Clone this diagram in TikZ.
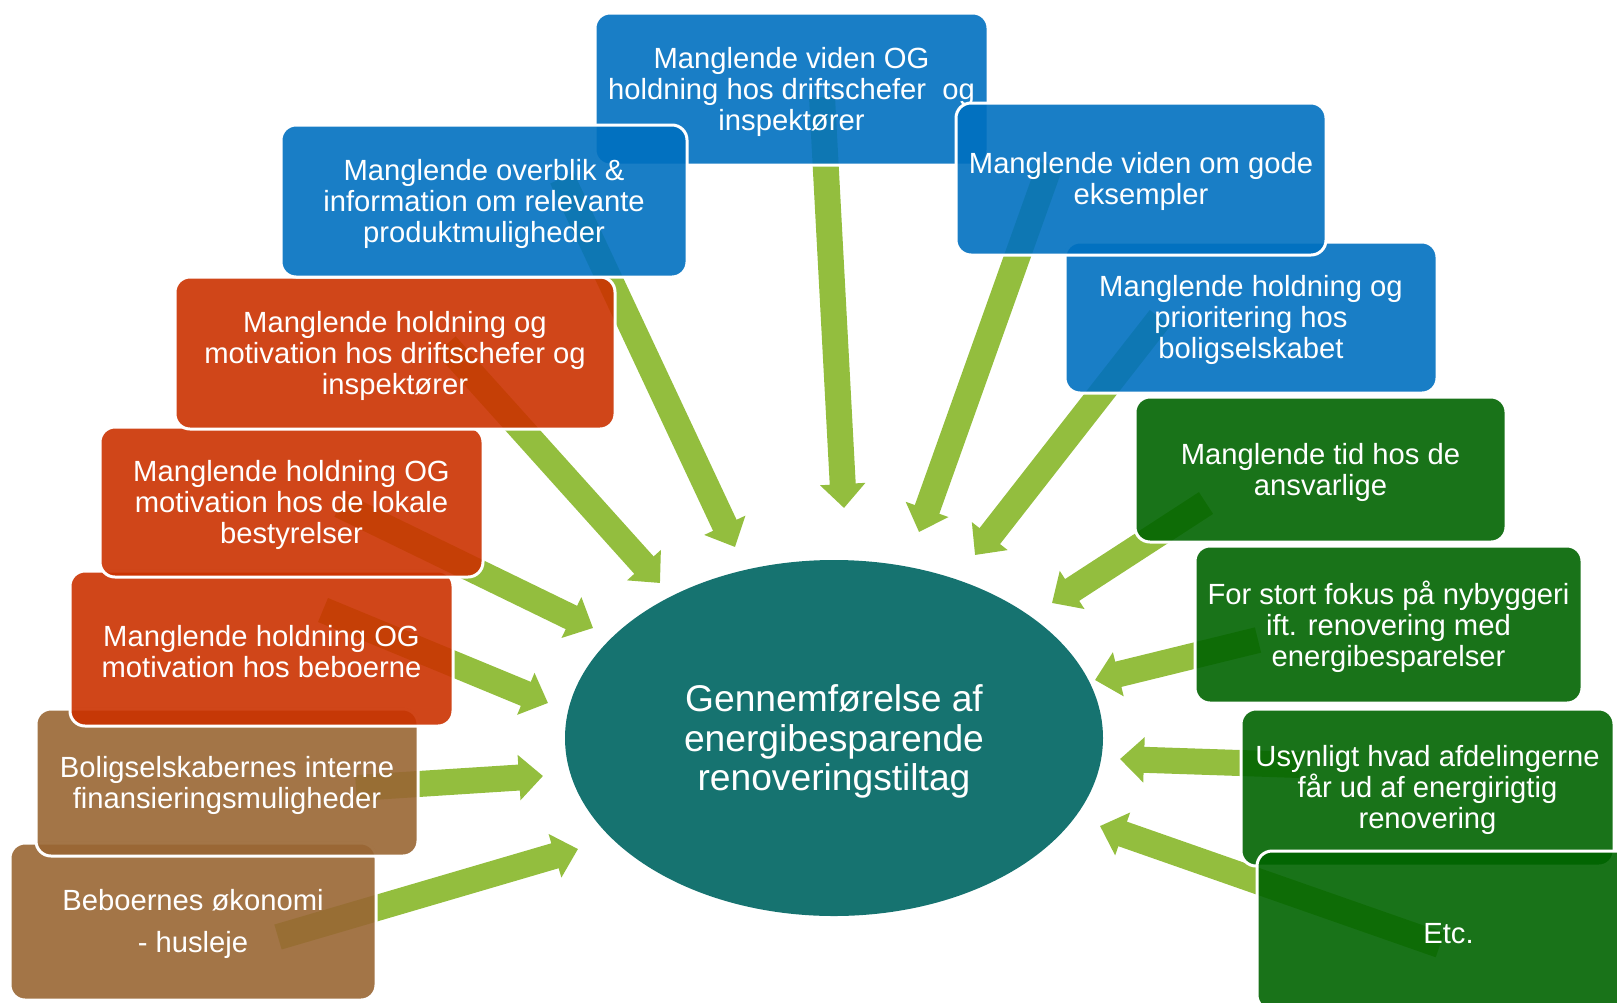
\documentclass[tikz,border=0pt]{standalone}
\usepackage{fontspec}
\setmainfont{Liberation Sans}
\usetikzlibrary{arrows.meta,shapes.geometric}
\definecolor{boxblue}{RGB}{0,112,192}
\definecolor{boxred}{RGB}{203,50,0}
\definecolor{boxbrown}{RGB}{153,102,51}
\definecolor{boxgreen}{RGB}{0,100,0}
\definecolor{hubteal}{RGB}{22,115,112}
\definecolor{arrowgreen}{RGB}{147,190,62}

\begin{document}
\begin{tikzpicture}[x=0.5pt,y=-0.5pt,
  card/.style={rectangle, rounded corners=7.5pt, draw=white, line width=1.5pt,
    fill opacity=0.9, inner sep=0pt},
  cardtext/.style={text=white, inner sep=0pt, align=center, yshift=-1.3pt,
    font=\fontsize{14.6pt}{15.5pt}\selectfont},
  flow/.style={draw=arrowgreen, line width=13pt,
    -{Triangle[width=22pt,length=12pt]}},
  hub/.style={ellipse, fill=hubteal, inner sep=0pt},
  hubtext/.style={text=white, inner sep=0pt, align=center, yshift=-1.8pt,
    font=\fontsize{18.6pt}{19.8pt}\selectfont}]
\useasboundingbox (0,0) rectangle (1617,1002);
\clip (0,0) rectangle (1617,1002);

% arrow end points
\coordinate (a1s) at (822,97);   \coordinate (a1e) at (844,508);
\coordinate (a2s) at (562,178);  \coordinate (a2e) at (735,547);
\coordinate (a3s) at (446,345);  \coordinate (a3e) at (660,583);
\coordinate (a4s) at (1050,165); \coordinate (a4e) at (919,532);
\coordinate (a5s) at (1160,318); \coordinate (a5e) at (975,555);
\coordinate (a6s) at (1206,503); \coordinate (a6e) at (1052,603);
\coordinate (a7s) at (1258,640); \coordinate (a7e) at (1095,680);
\coordinate (a8s) at (1300,765); \coordinate (a8e) at (1120,759);
\coordinate (a9s) at (1440,945); \coordinate (a9e) at (1100,826);
\coordinate (b1s) at (340,505);  \coordinate (b1e) at (593,628);
\coordinate (b2s) at (323,610);  \coordinate (b2e) at (548,703);
\coordinate (b3s) at (356,788);  \coordinate (b3e) at (543,776);
\coordinate (b4s) at (278,937);  \coordinate (b4e) at (578,849);

% arrows, beneath the boxes
\foreach \s/\e in {a1s/a1e,a2s/a2e,a3s/a3e,a4s/a4e,a5s/a5e,a6s/a6e,a7s/a7e,
                   a8s/a8e,a9s/a9e,b1s/b1e,b2s/b2e,b3s/b3e,b4s/b4e}
  \draw[flow] (\s) -- (\e);

% central ellipse
\node[hub, minimum width=269pt, minimum height=178pt,
  label={[hubtext]center:Gennemførelse af\\energibesparende\\renoveringstiltag}]
  (hub) at (834,738) {};

% boxes, lowest first
\node[card, fill=boxblue, minimum width=196.5pt, minimum height=76pt,
  label={[cardtext]center:Manglende viden OG\\holdning hos driftschefer\ \ og\\inspektører}]
  (top) at (791.5,89) {};
\node[card, fill=boxbrown, minimum width=183pt, minimum height=78.5pt,
  label={[cardtext]center:Beboernes økonomi\\[5.5pt]- husleje}]
  (oko) at (193,921.5) {};
\node[card, fill=boxbrown, minimum width=191pt, minimum height=73.5pt,
  label={[cardtext]center:Boligselskabernes interne\\finansieringsmuligheder}]
  (fin) at (227,782.5) {};
\node[card, fill=boxred, minimum width=191.5pt, minimum height=77.5pt,
  label={[cardtext]center:Manglende holdning OG\\motivation hos beboerne}]
  (beb) at (261.5,648.5) {};
\node[card, fill=boxred, minimum width=191.5pt, minimum height=75pt,
  label={[cardtext]center:Manglende holdning OG\\motivation hos de lokale\\bestyrelser}]
  (lok) at (291.5,502) {};
\node[card, fill=boxred, minimum width=220pt, minimum height=76pt,
  label={[cardtext]center:Manglende holdning og\\motivation hos driftschefer og\\inspektører}]
  (dri) at (395,353) {};
\node[card, fill=boxblue, minimum width=203pt, minimum height=76pt,
  label={[cardtext]center:Manglende overblik \&\\information om relevante\\produktmuligheder}]
  (ove) at (484,201) {};
\node[card, fill=boxgreen, minimum width=186.5pt, minimum height=78.5pt,
  label={[cardtext]center:Usynligt hvad afdelingerne\\får ud af energirigtig\\renovering}]
  (usy) at (1427.5,787.5) {};
\node[card, fill=boxgreen, minimum width=191.5pt, minimum height=79.5pt,
  label={[cardtext]center:Etc.}]
  (etc) at (1448.5,930.5) {};
\node[card, fill=boxgreen, minimum width=193.5pt, minimum height=78.5pt,
  label={[cardtext]center:For stort fokus på nybyggeri\\ift. renovering med\\energibesparelser}]
  (fok) at (1388.5,624.5) {};
\node[card, fill=boxgreen, minimum width=185.5pt, minimum height=72.5pt,
  label={[cardtext]center:Manglende tid hos de\\ansvarlige}]
  (tid) at (1320.5,469.5) {};
\node[card, fill=boxblue, minimum width=186pt, minimum height=75.5pt,
  label={[cardtext]center:Manglende holdning og\\prioritering hos\\boligselskabet}]
  (pri) at (1251,317.5) {};
\node[card, fill=boxblue, minimum width=185pt, minimum height=76pt,
  label={[cardtext]center:Manglende viden om gode\\eksempler}]
  (eks) at (1141,179) {};
\end{tikzpicture}
\end{document}
